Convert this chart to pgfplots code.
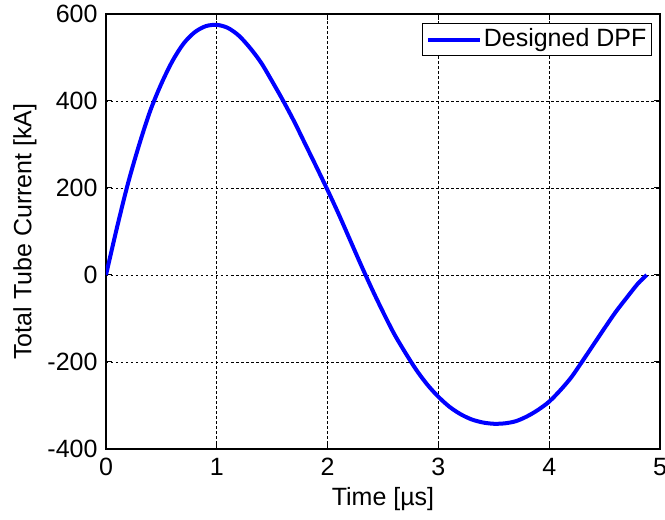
\documentclass[border=0pt]{standalone}
\usepackage{fontspec}
\setmainfont{Liberation Sans}
\usepackage{pgfplots}
\pgfplotsset{compat=1.18}

\begin{document}
\begin{tikzpicture}
\useasboundingbox (-106bp,-71bp) rectangle (559bp,449bp);
\fontsize{25bp}{29bp}\selectfont
\begin{axis}[
  at={(0,0)}, anchor=south west,
  scale only axis,
  width=554bp, height=435bp,
  xmin=0, xmax=5,
  ymin=-400, ymax=600,
  xtick={0,1,2,3,4,5},
  ytick={-400,-200,0,200,400,600},
  /pgf/number format/assume math mode=true,
  ticklabel style={font=\fontsize{25bp}{29bp}\selectfont},
  label style={font=\fontsize{25bp}{29bp}\selectfont},
  xlabel={Time [µs]},
  ylabel={Total Tube Current [kA]},
  xlabel style={yshift=6bp},
  ylabel style={yshift=-6bp},
  tick align=inside,
  major tick length=6bp,
  tick style={black, line width=1bp},
  axis line style={black, line width=1.4bp},
  grid=major,
  grid style={black, line width=0.8bp, dash pattern=on 2.5bp off 2.5bp},
  xticklabel style={yshift=-1bp},
  legend style={at={(rel axis cs:1,1)}, anchor=north east, xshift=-8bp, yshift=-9bp,
    draw=black, line width=1.2bp, font=\fontsize{25bp}{29bp}\selectfont,
    inner xsep=3bp, inner ysep=3bp, row sep=0pt},
  legend cell align=left,
  legend image code/.code={\draw[#1, line width=4bp] (0bp,0bp) -- (52bp,0bp);},
]
\addplot[blue, line width=4bp, smooth] coordinates {
  (0,0) (0.1,110) (0.2,212) (0.3,300) (0.4,378) (0.5,440) (0.6,492)
  (0.7,532) (0.8,558) (0.9,572) (1.0,575) (1.1,568) (1.2,550) (1.3,522)
  (1.4,488) (1.5,445) (1.6,400) (1.7,352) (1.8,300) (1.9,248) (2.0,195)
  (2.1,140) (2.2,82) (2.3,24) (2.4,-32) (2.5,-85) (2.6,-135) (2.7,-178)
  (2.8,-218) (2.9,-252) (3.0,-280) (3.1,-303) (3.2,-320) (3.3,-332)
  (3.4,-339) (3.5,-342) (3.6,-341) (3.7,-336) (3.8,-325) (3.9,-310)
  (4.0,-291) (4.1,-265) (4.2,-235) (4.3,-198) (4.4,-160) (4.5,-122)
  (4.6,-85) (4.7,-52) (4.8,-20) (4.88,0)
};
\addlegendentry{Designed DPF}
\end{axis}
\end{tikzpicture}
\end{document}
